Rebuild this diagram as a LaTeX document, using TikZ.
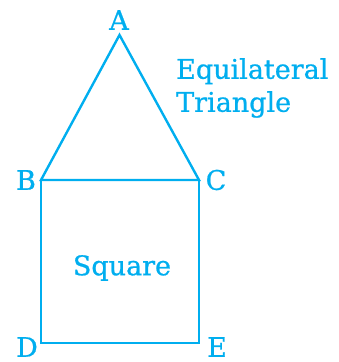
\documentclass[tikz,border=0pt]{standalone}
\usepackage{fontspec}
\setmainfont{DejaVu Serif}
\newfontfamily\lblfont{DejaVu Serif}[FakeBold=0.8]
\definecolor{ncert}{HTML}{00AEEF}
\begin{document}
\begin{tikzpicture}[x=1pt,y=-1pt,
  shape line/.style={draw=ncert,line width=2.4pt,line join=miter},
  lbl/.style={text=ncert,font=\lblfont\fontsize{27}{33}\selectfont,inner sep=0pt}]
\useasboundingbox (0,0) rectangle (339,362);
\coordinate (A) at (119.5,35);
\coordinate (B) at (41,180);
\coordinate (C) at (199,180);
\coordinate (D) at (41,343);
\coordinate (E) at (199,343);
\draw[shape line] (A) -- (B) -- (C) -- cycle;
\draw[shape line] (B) -- (D) -- (E) -- (C);
\node[lbl] (lA) at (119,20) {A};
\node[lbl] (lB) at (26,180) {B};
\node[lbl] (lC) at (216,180) {C};
\node[lbl] (lD) at (27,347) {D};
\node[lbl] (lE) at (217,347) {E};
\node[lbl] (sq) at (122,268) {Square};
\node[lbl,anchor=west,align=left] (eq) at (176,88) {Equilateral\\Triangle};
\end{tikzpicture}
\end{document}
